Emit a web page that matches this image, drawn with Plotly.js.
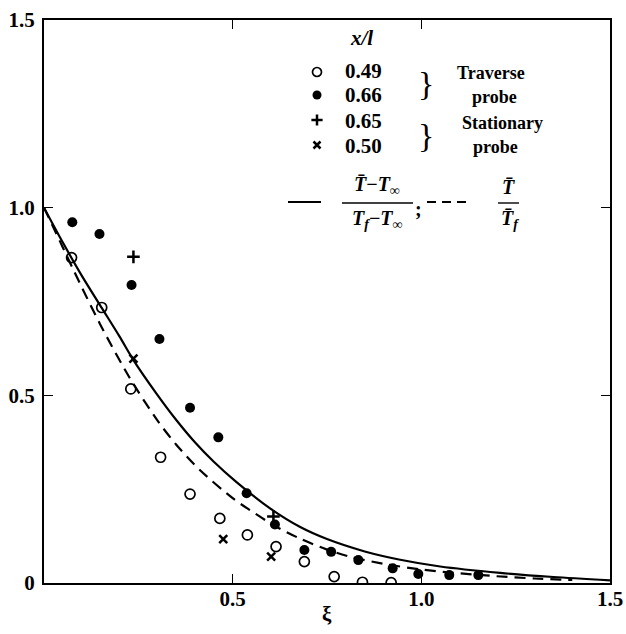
<!DOCTYPE html>
<html>
<head>
<meta charset="utf-8">
<script src="https://cdn.plot.ly/plotly-3.0.1.min.js"></script>
<style>html,body{margin:0;padding:0;background:#fff;}#plot{width:626px;height:634px;}</style>
</head>
<body>
<div id="plot"></div>
<script>
// Solid curve: (T - Tinf)/(Tf - Tinf)
const solidXi = [0, 0.05, 0.1, 0.153, 0.2, 0.237, 0.3, 0.35, 0.4, 0.45, 0.511, 0.6, 0.679, 0.75, 0.85, 0.944, 1.05, 1.209, 1.35, 1.5];
const solidY  = [1.0, 0.907, 0.819, 0.733, 0.657, 0.594, 0.502, 0.435, 0.375, 0.323, 0.268, 0.198, 0.149, 0.117, 0.084, 0.062, 0.044, 0.027, 0.016, 0.007];
// Dashed curve: T / Tf
const dashXi = [0.0, 0.05, 0.078, 0.15, 0.228, 0.3, 0.35, 0.413, 0.5, 0.546, 0.612, 0.679, 0.75, 0.811, 0.9, 1.0, 1.076, 1.2, 1.3, 1.4];
const dashY  = [1.0, 0.894, 0.834, 0.687, 0.545, 0.434, 0.369, 0.301, 0.226, 0.194, 0.152, 0.118, 0.089, 0.070, 0.051, 0.036, 0.028, 0.018, 0.012, 0.008];
// x/l = 0.49 traverse probe (open circles)
const open49Xi = [0.073, 0.153, 0.230, 0.309, 0.387, 0.466, 0.539, 0.615, 0.690, 0.769, 0.844, 0.920];
const open49Y  = [0.867, 0.734, 0.517, 0.335, 0.237, 0.172, 0.128, 0.097, 0.057, 0.017, 0.002, 0.001];
// x/l = 0.66 traverse probe (filled circles)
const fill66Xi = [0.075, 0.147, 0.232, 0.306, 0.387, 0.462, 0.537, 0.612, 0.690, 0.761, 0.833, 0.924, 0.992, 1.074, 1.151];
const fill66Y  = [0.961, 0.930, 0.794, 0.650, 0.467, 0.388, 0.239, 0.156, 0.088, 0.083, 0.061, 0.039, 0.024, 0.021, 0.021];
// x/l = 0.65 stationary probe (plus)
const plus65Xi = [0.237, 0.608];
const plus65Y  = [0.869, 0.177];
// x/l = 0.50 stationary probe (cross)
const cross50Xi = [0.237, 0.475, 0.602];
const cross50Y  = [0.598, 0.117, 0.070];
// legend entries
const legendLabels = ["0.49", "0.66", "0.65", "0.50"];
const tickXVals = [0, 0.5, 1.0, 1.5];
const tickXText = ["", "0.5", "1.0", "1.5"];
const tickYVals = [0, 0.5, 1.0, 1.5];
const tickYText = ["0", "0.5", "1.0", "1.5"];

const FONT = '"Liberation Serif", "DejaVu Serif", serif';
const L = 44, R = 610, T = 20, B = 583;
const px = v => (v - L) / (R - L);
const py = v => (B - v) / (B - T);

const traces = [
  {x: solidXi, y: solidY, mode: 'lines', line: {color: '#000', width: 2.2, shape: 'spline', smoothing: 0.8}, hoverinfo: 'skip'},
  {x: dashXi, y: dashY, mode: 'lines', line: {color: '#000', width: 2.2, dash: '11px,7px', shape: 'spline', smoothing: 0.8}, hoverinfo: 'skip'},
  {x: open49Xi, y: open49Y, mode: 'markers', marker: {symbol: 'circle-open', size: 10, color: '#000', line: {width: 1.7, color: '#000'}}},
  {x: fill66Xi, y: fill66Y, mode: 'markers', marker: {symbol: 'circle', size: 10, color: '#000'}},
  {x: plus65Xi, y: plus65Y, mode: 'markers', marker: {symbol: 'cross-thin', size: 9, color: '#000', line: {width: 2.5, color: '#000'}}},
  {x: cross50Xi, y: cross50Y, mode: 'markers', marker: {symbol: 'x-thin', size: 8, color: '#000', line: {width: 2.5, color: '#000'}}},
];

// legend symbols on overlay axes (0..1 like paper)
const symYs = [py(72), py(95), py(120), py(145)];
const symDefs = [
  {symbol: 'circle-open', size: 9, color: '#000', line: {width: 1.7, color: '#000'}},
  {symbol: 'circle', size: 9, color: '#000'},
  {symbol: 'cross-thin', size: 8, color: '#000', line: {width: 2.5, color: '#000'}},
  {symbol: 'x-thin', size: 7, color: '#000', line: {width: 2.5, color: '#000'}},
];
symDefs.forEach((m, i) => {
  traces.push({x: [px(317)], y: [symYs[i]], xaxis: 'x2', yaxis: 'y2', mode: 'markers', marker: m, hoverinfo: 'skip'});
});

const f = (size, extra) => Object.assign({family: FONT, size: size, color: '#000'}, extra || {});
const ann = [];
const labYs = [py(71), py(95), py(121), py(146)];
legendLabels.forEach((t, i) => {
  ann.push({xref: 'paper', yref: 'paper', x: px(343), y: labYs[i], xanchor: 'left', yanchor: 'middle', text: t, showarrow: false, font: f(21, {weight: 'bold'})});
});
ann.push({xref: 'paper', yref: 'paper', x: px(361), y: py(38), xanchor: 'center', yanchor: 'middle', text: '<b><i>x/l</i></b>', showarrow: false, font: f(21)});
ann.push({xref: 'paper', yref: 'paper', x: px(426), y: py(84), xanchor: 'center', yanchor: 'middle', text: '}', showarrow: false, font: f(34)});
ann.push({xref: 'paper', yref: 'paper', x: px(426), y: py(135), xanchor: 'center', yanchor: 'middle', text: '}', showarrow: false, font: f(34)});
const words = [["Traverse", 491, 73], ["probe", 494, 97], ["Stationary", 502, 123], ["probe", 495, 147]];
words.forEach(w => ann.push({xref: 'paper', yref: 'paper', x: px(w[1]), y: py(w[2]), xanchor: 'center', yanchor: 'middle', text: w[0], showarrow: false, font: f(18, {weight: 'bold'})}));
// fraction labels
ann.push({xref: 'paper', yref: 'paper', x: px(377), y: py(200), xanchor: 'center', yanchor: 'bottom', text: '<b><i>T\u0304</i>\u2212<i>T</i><sub>\u221e</sub></b>', showarrow: false, font: f(20)});
ann.push({xref: 'paper', yref: 'paper', x: px(377), y: py(205), xanchor: 'center', yanchor: 'top', text: '<b><i>T</i><sub><i>f</i></sub>\u2212<i>T</i><sub>\u221e</sub></b>', showarrow: false, font: f(20)});
ann.push({xref: 'paper', yref: 'paper', x: px(418), y: py(209), xanchor: 'center', yanchor: 'middle', text: '<b>;</b>', showarrow: false, font: f(20)});
ann.push({xref: 'paper', yref: 'paper', x: px(508), y: py(200), xanchor: 'center', yanchor: 'bottom', text: '<b><i>T\u0304</i></b>', showarrow: false, font: f(20)});
ann.push({xref: 'paper', yref: 'paper', x: px(510), y: py(205), xanchor: 'center', yanchor: 'top', text: '<b><i>T\u0304</i><sub><i>f</i></sub></b>', showarrow: false, font: f(20)});
// axis title
ann.push({xref: 'paper', yref: 'paper', x: px(327), y: py(614), xanchor: 'center', yanchor: 'middle', text: '<b>\u03be</b>', showarrow: false, font: f(21)});

const shapes = [
  {type: 'line', xref: 'paper', yref: 'paper', x0: px(288), x1: px(321), y0: py(202), y1: py(202), line: {color: '#000', width: 2.2}},
  {type: 'line', xref: 'paper', yref: 'paper', x0: px(427), x1: px(471), y0: py(202), y1: py(202), line: {color: '#000', width: 2.2, dash: '9px,6px'}},
  {type: 'line', xref: 'paper', yref: 'paper', x0: px(342), x1: px(413), y0: py(203), y1: py(203), line: {color: '#000', width: 1.4}},
  {type: 'line', xref: 'paper', yref: 'paper', x0: px(498), x1: px(519), y0: py(203), y1: py(203), line: {color: '#000', width: 1.4}},
];

const axisCommon = {
  showgrid: false, zeroline: false, showline: true, linecolor: '#000', linewidth: 2,
  mirror: 'ticks', ticks: 'inside', ticklen: 9, tickwidth: 1.5, tickcolor: '#000',
  tickfont: f(21, {weight: 'bold'}), fixedrange: true
};

const layout = {
  width: 626, height: 634,
  margin: {l: L, r: 626 - R, t: T, b: 634 - B, pad: 0},
  paper_bgcolor: '#fff', plot_bgcolor: '#fff',
  showlegend: false,
  font: f(20),
  xaxis: Object.assign({}, axisCommon, {range: [0, 1.5], tickvals: tickXVals, ticktext: tickXText, ticklabelstandoff: -4}),
  yaxis: Object.assign({}, axisCommon, {range: [0, 1.5], tickvals: tickYVals, ticktext: tickYText, ticklabelstandoff: 3}),
  xaxis2: {overlaying: 'x', range: [0, 1], visible: false, fixedrange: true},
  yaxis2: {overlaying: 'y', range: [0, 1], visible: false, fixedrange: true},
  annotations: ann,
  shapes: shapes
};

Plotly.newPlot('plot', traces, layout, {staticPlot: true});
</script>
</body>
</html>
